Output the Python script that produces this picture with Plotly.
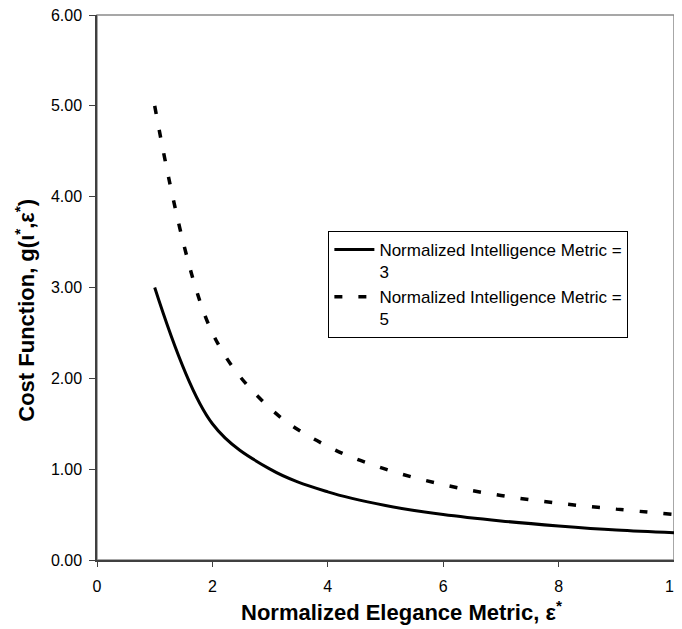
import plotly.graph_objects as go

elegance = [1, 2, 3, 4, 5, 6, 7, 8, 9, 10]
cost_i3 = [3.00, 1.50, 1.00, 0.75, 0.60, 0.50, 0.43, 0.375, 0.33, 0.30]
cost_i5 = [5.00, 2.50, 1.67, 1.25, 1.00, 0.83, 0.71, 0.625, 0.56, 0.50]
name_i3 = "Normalized Intelligence Metric =<br>3"
name_i5 = "Normalized Intelligence Metric =<br>5"
y_ticks = [0, 1, 2, 3, 4, 5, 6]
x_ticks = [0, 2, 4, 6, 8, 10]
x_title = "<b>Normalized Elegance Metric, ε<sup>*</sup></b>"
y_title = "<b>Cost Function, g(ι<sup>*</sup>,ε<sup>*</sup>)</b>"

FONT = "Liberation Sans, Arial, sans-serif"

fig = go.Figure()
fig.add_trace(go.Scatter(x=elegance, y=cost_i3, mode="lines", name=name_i3,
                         line=dict(color="black", width=3, shape="spline", smoothing=1.0)))
fig.add_trace(go.Scatter(x=elegance, y=cost_i5, mode="lines", name=name_i5,
                         line=dict(color="black", width=3.5, dash="8px,16px", shape="spline", smoothing=1.0)))

fig.add_shape(type="rect", xref="paper", yref="paper", x0=0, y0=0, x1=1, y1=1,
              line=dict(color="#8a8a8a", width=1.5), layer="below")

fig.add_annotation(text=x_title, xref="paper", yref="paper", x=0.527, y=-0.093,
                   xanchor="center", yanchor="middle", showarrow=False,
                   font=dict(family=FONT, size=22, color="black"))
fig.add_annotation(text=y_title, xref="paper", yref="paper", x=-0.125, y=0.459,
                   xanchor="center", yanchor="middle", showarrow=False, textangle=-90,
                   font=dict(family=FONT, size=22, color="black"))

fig.update_layout(
    width=674, height=621,
    margin=dict(l=89, r=8, t=7, b=69, autoexpand=False),
    paper_bgcolor="white", plot_bgcolor="white",
    font=dict(family=FONT, size=16, color="black"),
    showlegend=True,
    legend=dict(x=0.401, y=0.6037, xanchor="left", yanchor="top", valign="top",
                bordercolor="black", borderwidth=1, bgcolor="white",
                font=dict(family=FONT, size=17), itemwidth=40),
    xaxis=dict(range=[0, 10], tickvals=x_ticks, ticks="outside", ticklen=5,
               showgrid=False, zeroline=False, showline=True, linecolor="#404040", linewidth=1.5,
               tickcolor="#404040", tickfont=dict(size=16), ticklabelstandoff=6,
               ticklabeloverflow="allow", automargin=False),
    yaxis=dict(range=[0, 6], tickvals=y_ticks, tickformat=".2f", ticks="outside", ticklen=6,
               showgrid=False, zeroline=False, showline=True, linecolor="#404040", linewidth=1.5,
               tickcolor="#404040", tickfont=dict(size=16), ticklabelstandoff=4,
               ticklabeloverflow="allow", automargin=False),
)

fig.write_html("out.html")
